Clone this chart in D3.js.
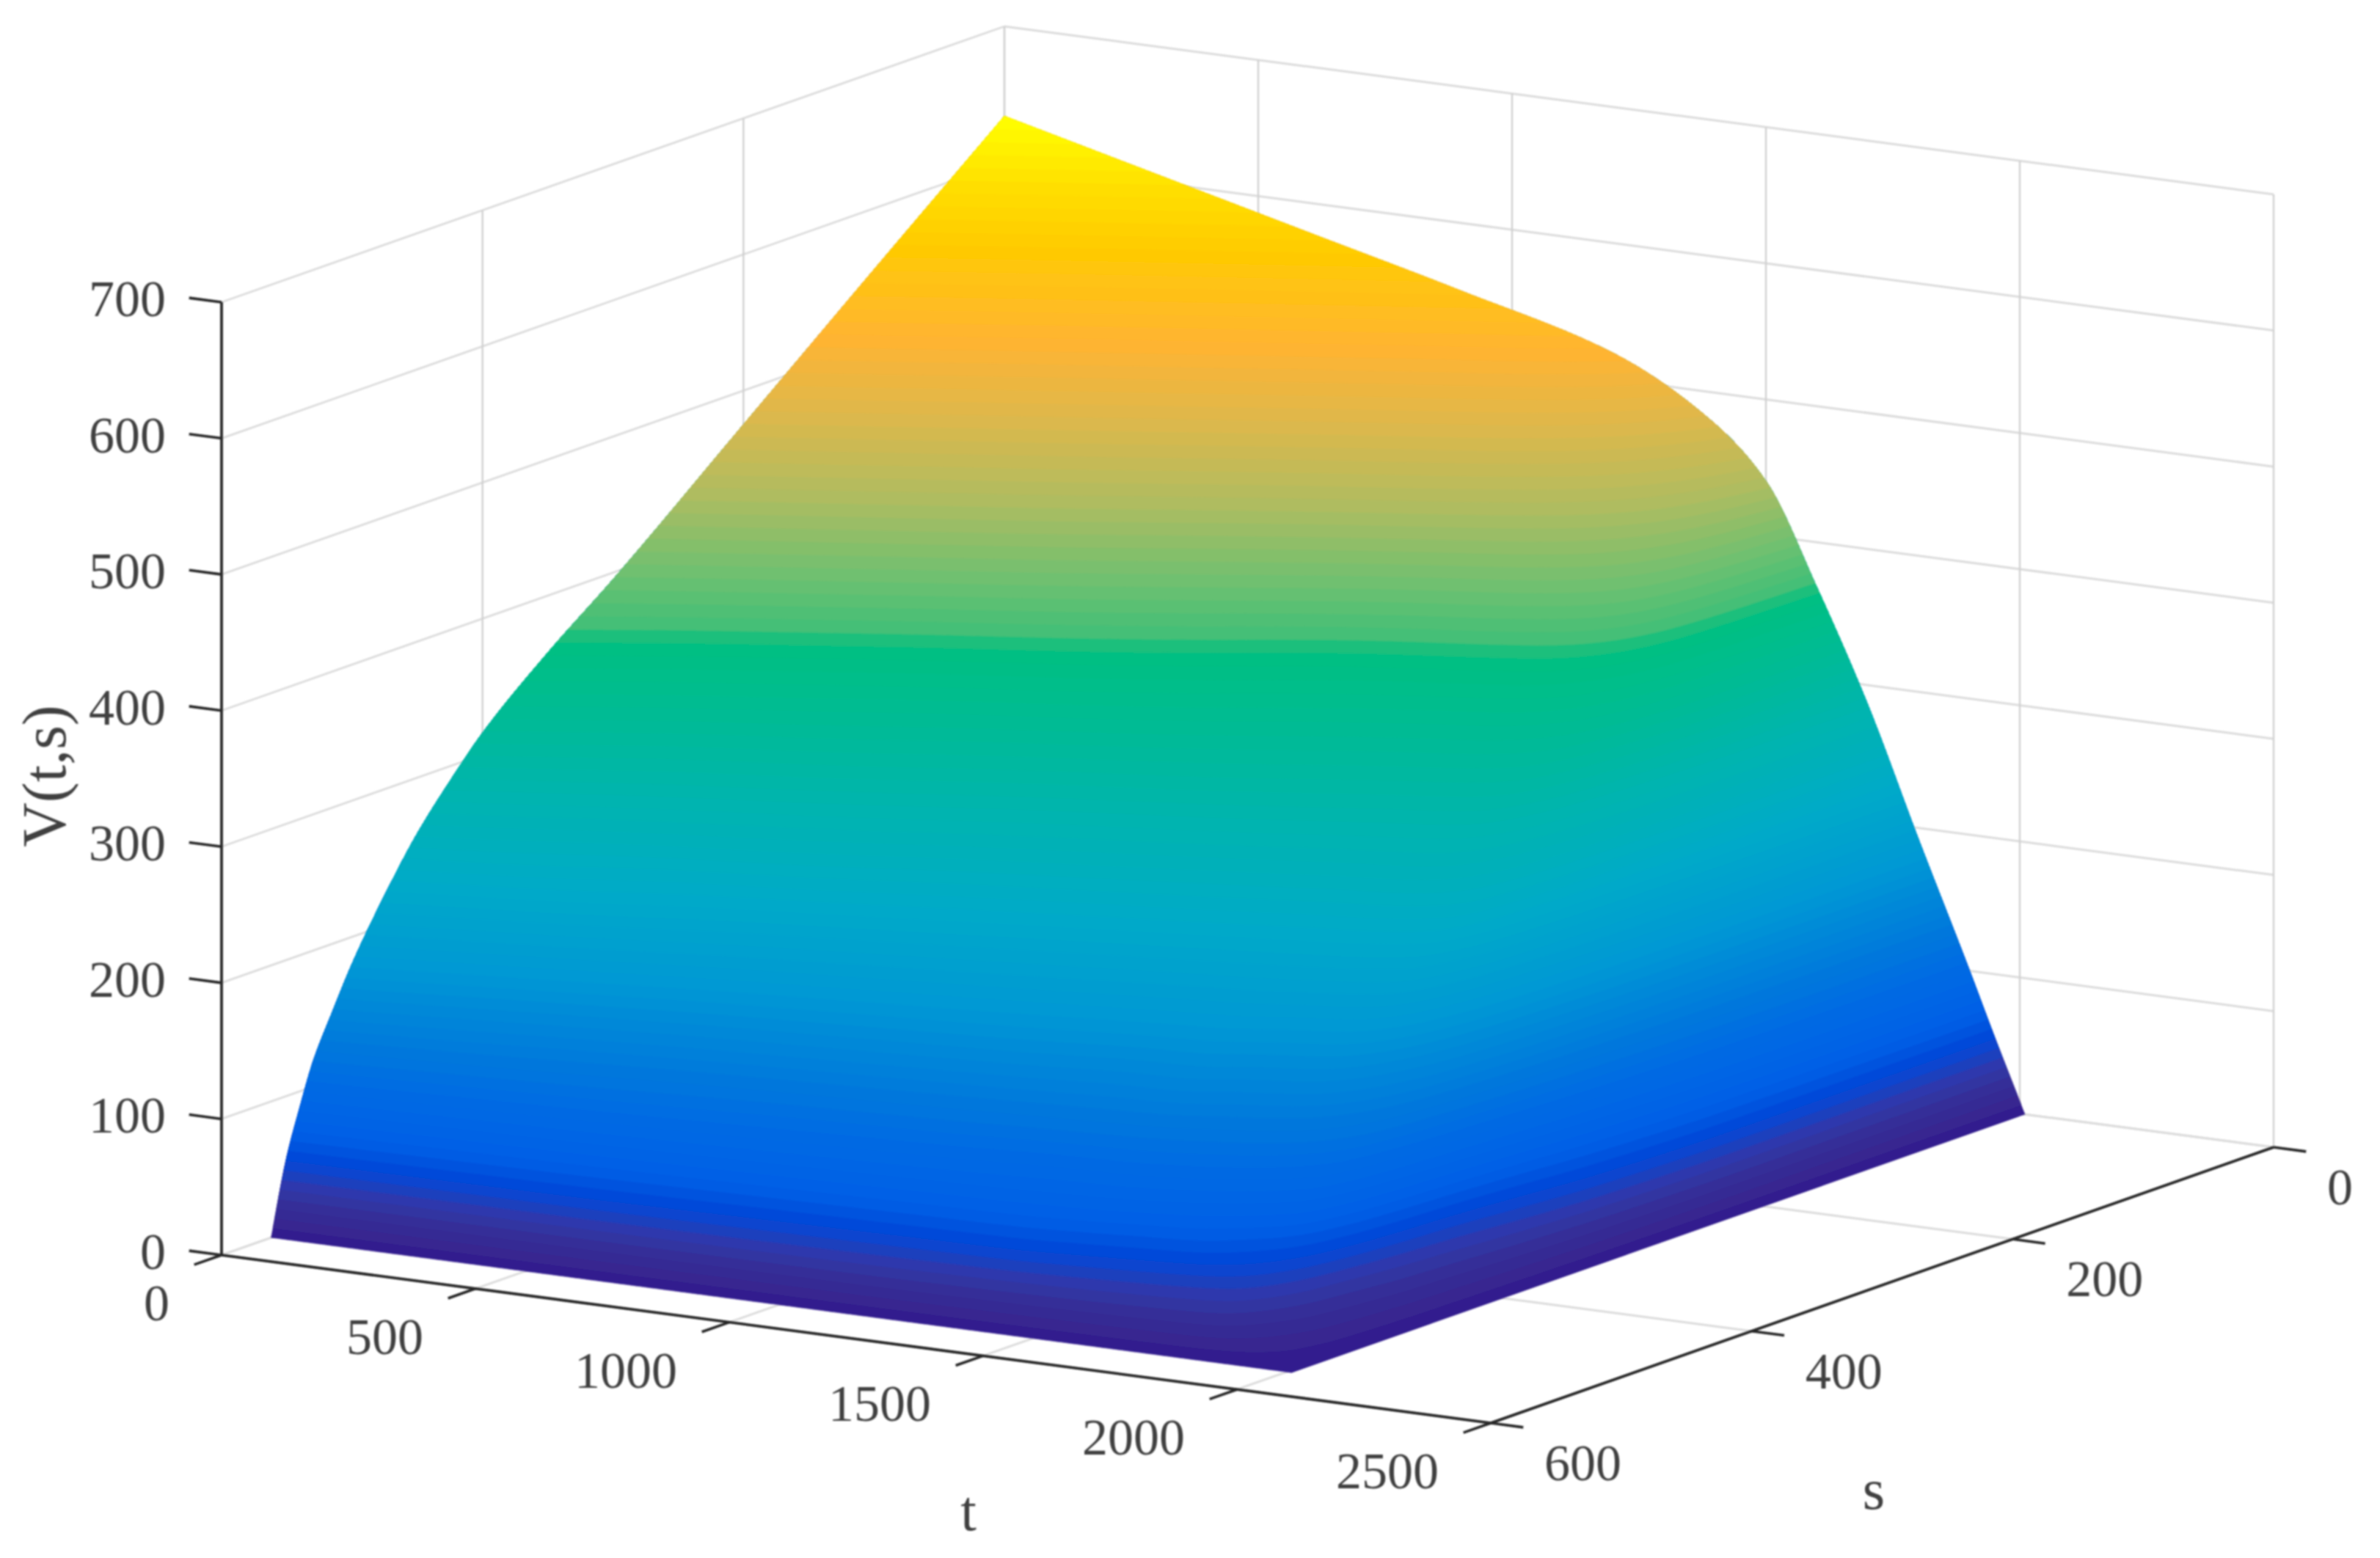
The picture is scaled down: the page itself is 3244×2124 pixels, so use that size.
<!DOCTYPE html>
<html><head><meta charset="utf-8">
<script src="https://cdn.jsdelivr.net/npm/d3@7"></script>
<style>html,body{margin:0;padding:0;background:#fff}svg{display:block}
text{font-family:"Liberation Serif",serif;fill:#404040}</style></head>
<body><svg id="c" width="3244" height="2124"></svg>
<script>
// Tick labels
const tTicks=[0,500,1000,1500,2000,2500];
const sTicks=[0,200,400,600];
const zTicks=[0,100,200,300,400,500,600,700];
// Surface V(t,s), values: one array per s row
const tGrid=[0,300,600,900,1200,1400,1500,1600,1700,1800,1900,1950,2010];
const sGrid=[0,100,200,300,350,400,425,450,475,500,515,530,540,550,562];
const vS0  =[634,606,578,550,519,477,440,367,286,192,101,54,0];
const vS100=[555,526,498,469,440,417,398,358,282,190,98,53,0];
const vS200=[475,447,419,388,357,342,335,320,272,185,92,52,0];
const vS300=[395,366,338,315,294,279,272,266,248,172,75,42,0];
const vS350=[358,326,302,276,254,240,233,227,215,158,60,33,0];
const vS400=[316,282,256,229,208,196,191,182,172,136,47,25,0];
const vS425=[289,255,226,203,185,174,170,160,151,122,43,22,0];
const vS450=[259,228,196,176,161,150,148,138,128,106,38,20,0];
const vS475=[222,190,163,147,134,126,122,115,105,86,32,17,0];
const vS500=[180,150,130,117,107,98,96,90,80,62,27,14,0];
const vS515=[150,128,112,100,90,84,80,73,66,50,23,12,0];
const vS530=[118,100,88,78,70,66,60,53,46,37,17,9,0];
const vS540=[88,76,68,60,54,50,44,38,33,27,13,7,0];
const vS550=[55,50,46,40,34,28,25,22,19,16,8,4,0];
const vS562=[0,0,0,0,0,0,0,0,0,0,0,0,0];
const vRows=[vS0,vS100,vS200,vS300,vS350,vS400,vS425,vS450,vS475,vS500,vS515,vS530,vS540,vS550,vS562];
// Colour map stops
const cmapZ=[0,8,25,40,48,55,72,100,130,180,230,280,320,365,368,400,440,480,520,570,600,634];
const cmapC=["#2e1a8e","#38258f","#353099","#2a3cb4","#0c44cc","#0048d8","#0060e6","#0068e4","#0078dc","#0098d4","#00aac8","#00b4b0","#00ba98","#00c080","#3cbf78","#70c070","#b0bc60","#dcb84c","#ffb432","#ffcc00","#ffe000","#ffff00"];
const nLevels=96, zMax=634;

const svg=d3.select("#c");
const ox=1369, oy=1335;
const tX=d3.scaleLinear([0,2500],[0,1730]), tY=d3.scaleLinear([0,2500],[0,229]);
const sX=d3.scaleLinear([0,600],[0,-1067]), sY=d3.scaleLinear([0,600],[0,376]);
const zY=d3.scaleLinear([0,700],[0,-1299]);
const P=(t,s,z)=>[ox+tX(t)+sX(s), oy+tY(t)+sY(s)+zY(z)];
const line=d3.line();

const defs=svg.append("defs");
defs.append("filter").attr("id","soft").attr("filterUnits","userSpaceOnUse")
 .attr("x",0).attr("y",0).attr("width",3244).attr("height",2124)
 .append("feGaussianBlur").attr("stdDeviation",1.3);

// Walls and floor grid
const grid=svg.append("g").attr("filter","url(#soft)").attr("fill","none");
function seg(g,a,b,col,w){g.append("path").attr("d",line([a,b])).attr("stroke",col).attr("stroke-width",w);}
for(const z of zTicks){
  seg(grid,P(0,600,z),P(0,0,z),"#dcdcdc",2.8);
  seg(grid,P(0,0,z),P(2500,0,z),"#dcdcdc",3);
}
for(const t of tTicks){
  seg(grid,P(t,0,0),P(t,0,700),"#d0d0d0",2.4);
  seg(grid,P(t,0,0),P(t,600,0),"#dcdcdc",3);
}
for(const s of sTicks){
  seg(grid,P(0,s,0),P(0,s,700),"#d0d0d0",2.4);
  seg(grid,P(0,s,0),P(2500,s,0),"#dcdcdc",3);
}

// Monotone resampling of the read table for a fine colour rendering
function mono(xs,ys){
  const n=xs.length,h=[],d=[],m=new Array(n);
  for(let i=0;i<n-1;i++){h[i]=xs[i+1]-xs[i];d[i]=(ys[i+1]-ys[i])/h[i];}
  m[0]=d[0];m[n-1]=d[n-2];
  for(let i=1;i<n-1;i++){
    if(d[i-1]*d[i]<=0)m[i]=0;
    else{const w1=2*h[i]+h[i-1],w2=h[i]+2*h[i-1];m[i]=(w1+w2)/(w1/d[i-1]+w2/d[i]);}
  }
  return x=>{
    let i=Math.min(n-2,Math.max(0,d3.bisectRight(xs,x)-1));
    const u=(x-xs[i])/h[i],u2=u*u,u3=u2*u;
    return (2*u3-3*u2+1)*ys[i]+(u3-2*u2+u)*h[i]*m[i]+(-2*u3+3*u2)*ys[i+1]+(u3-u2)*h[i]*m[i+1];
  };
}
const dt=5, ds=2, nt=403, ns=282;
const tMax=2010, sMax=562;
const tFine=d3.range(nt).map(i=>i*dt), sFine=d3.range(ns).map(j=>Math.min(sMax,j*ds));
const rowsFine=vRows.map(r=>tFine.map(mono(tGrid,r)));
const field=new Float64Array(nt*ns);
for(let i=0;i<nt;i++){
  const f=mono(sGrid,rowsFine.map(r=>r[i]));
  for(let j=0;j<ns;j++)field[i+j*nt]=f(sFine[j]);
}
function sample(t,s){
  const fx=Math.max(0,Math.min(nt-1.0001,t/dt)),fy=Math.max(0,Math.min(ns-1.0001,s/ds));
  const i=Math.floor(fx),j=Math.floor(fy),a=fx-i,b=fy-j;
  return (1-a)*(1-b)*field[i+j*nt]+a*(1-b)*field[i+1+j*nt]+(1-a)*b*field[i+(j+1)*nt]+a*b*field[i+1+(j+1)*nt];
}
const levels=d3.range(nLevels).map(k=>k*zMax/nLevels);
const levels0=levels.slice();levels0[0]=-1;
const cmap=d3.scaleLinear(cmapZ,cmapC).interpolate(d3.interpolateRgb);
const bands=d3.contours().size([nt,ns]).thresholds(levels0)(Array.from(field));
const geo=d3.geoPath().projection(d3.geoTransform({point(x,y){
  const t=Math.max(0,Math.min(tMax,(x-.5)*dt)),s=Math.max(0,Math.min(sMax,(y-.5)*ds));
  const p=P(t,s,Math.max(0,sample(t,s)));
  this.stream.point(p[0],p[1]);
}}));
const surf=svg.append("g").attr("filter","url(#soft)");
surf.selectAll("path").data(bands).join("path")
  .attr("d",geo)
  .attr("fill",(d,k)=>cmap(levels[k]+zMax/nLevels/2))
  .attr("stroke",(d,k)=>cmap(levels[k]+zMax/nLevels/2)).attr("stroke-width",0.6);

// Axes
const ax=svg.append("g").attr("filter","url(#soft)").attr("fill","none");
const ac="#262626", aw=3.6;
seg(ax,P(0,600,0),P(0,600,700),ac,aw);
seg(ax,P(0,600,0),P(2500,600,0),ac,aw);
seg(ax,P(2500,600,0),P(2500,0,0),ac,aw);
for(const z of zTicks)seg(ax,P(0,600,z),P(-64,600,z),ac,aw);
for(const t of tTicks)seg(ax,P(t,600,0),P(t,621,0),ac,aw);
for(const s of sTicks)seg(ax,P(2500,s,0),P(2564,s,0),ac,aw);

const fs=70;
const tx=svg.append("g").attr("filter","url(#soft)").attr("font-size",fs);
for(const z of zTicks){const p=P(0,600,z);
  tx.append("text").attr("x",p[0]-76).attr("y",p[1]+19).attr("text-anchor","end").text(z);}
for(const t of tTicks){const p=P(t,600,0);
  tx.append("text").attr("x",p[0]-71).attr("y",p[1]+89).attr("text-anchor","end").text(t);}
for(const s of sTicks){const p=P(2500,s,0);
  tx.append("text").attr("x",p[0]+73).attr("y",p[1]+78).text(s);}
tx.append("text").attr("x",1320).attr("y",2086).attr("text-anchor","middle").attr("font-size",78).text("t");
tx.append("text").attr("x",2554).attr("y",2057).attr("text-anchor","middle").attr("font-size",78).text("s");
tx.append("text").attr("transform","translate(89,1058) rotate(-90)").attr("text-anchor","middle").attr("font-size",84).text("V(t,s)");
</script></body></html>
